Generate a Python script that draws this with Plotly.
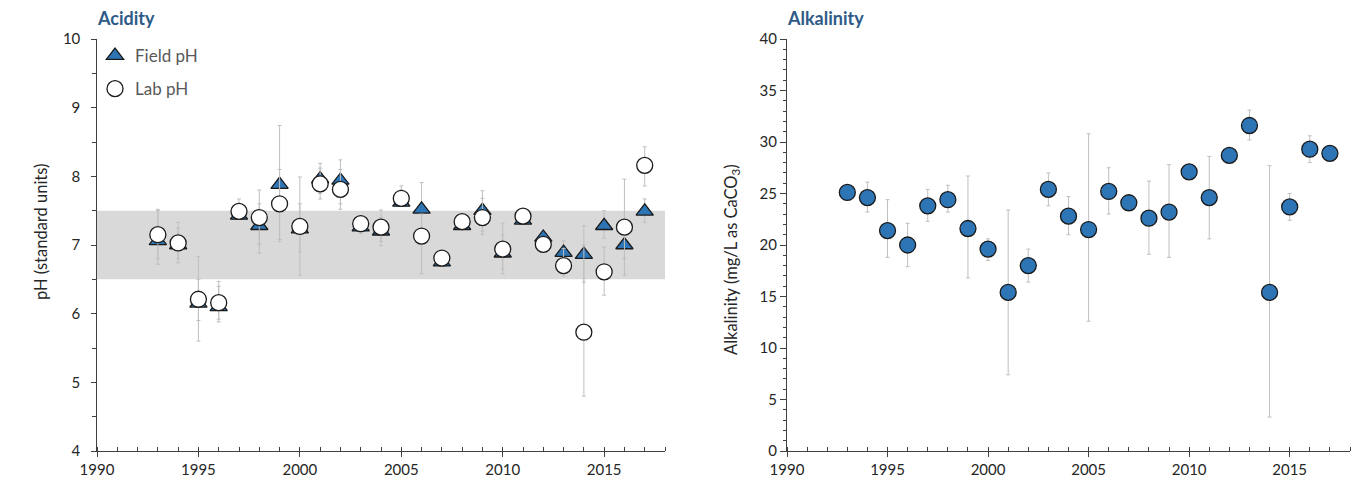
import plotly.graph_objects as go

# ---------------- data ----------------
years = list(range(1993, 2018))

field_ph = [7.06, 7.00, 6.15, 6.10, 7.43, 7.28, 7.88, 7.23, 7.96, 7.94, 7.26, 7.20, 7.62,
            7.52, 6.75, 7.28, 7.50, 6.88, 7.36, 7.11, 6.89, 6.86, 7.28, 7.00, 7.49]
field_hi = [7.50, 7.25, 6.50, 6.40, 7.60, 7.60, 8.74, 7.60, 8.12, 8.24, 7.32, 7.40, 7.80,
            7.91, 6.80, 7.33, 7.79, 7.15, 7.42, 7.18, 7.06, 7.00, 7.50, 7.20, 7.67]
field_lo = [6.80, 6.80, 5.90, 5.92, 7.38, 6.88, 7.08, 6.90, 7.75, 7.60, 7.18, 7.05, 7.58,
            7.20, 6.72, 7.25, 7.20, 6.65, 7.32, 7.02, 6.62, 6.46, 7.10, 6.56, 7.33]

lab_ph = [7.15, 7.03, 6.21, 6.16, 7.49, 7.40, 7.60, 7.27, 7.89, 7.81, 7.31, 7.26, 7.68,
          7.13, 6.81, 7.34, 7.40, 6.94, 7.42, 7.01, 6.70, 5.73, 6.61, 7.26, 8.16]
lab_hi = [7.52, 7.33, 6.83, 6.47, 7.67, 7.80, 8.10, 7.99, 8.19, 8.10, 7.36, 7.51, 7.86,
          7.45, 6.86, 7.38, 7.68, 7.32, 7.46, 7.10, 6.95, 7.28, 6.97, 7.96, 8.43]
lab_lo = [6.72, 6.74, 5.60, 5.88, 7.42, 7.01, 7.05, 6.56, 7.67, 7.52, 7.17, 6.99, 7.60,
          6.58, 6.76, 7.30, 7.15, 6.58, 7.38, 6.92, 6.55, 4.80, 6.27, 6.80, 7.86]

alk = [25.1, 24.6, 21.4, 20.0, 23.8, 24.4, 21.6, 19.6, 15.4, 18.0, 25.4, 22.8, 21.5,
       25.2, 24.1, 22.6, 23.2, 27.1, 24.6, 28.7, 31.6, 15.4, 23.7, 29.3, 28.9]
alk_hi = [25.6, 26.1, 24.4, 22.1, 25.4, 25.8, 26.7, 20.6, 23.4, 19.6, 27.0, 24.7, 30.8,
          27.5, 24.4, 26.2, 27.8, 27.4, 28.6, 29.0, 33.1, 27.7, 25.0, 30.6, 29.2]
alk_lo = [24.6, 23.2, 18.8, 17.9, 22.3, 23.2, 16.8, 18.5, 7.4, 16.4, 23.8, 21.0, 12.6,
          23.0, 23.8, 19.1, 18.8, 26.8, 20.6, 28.4, 30.2, 3.3, 22.4, 28.0, 28.6]

band_lo, band_hi = 6.5, 7.5

# ---------------- style ----------------
FONT = "Lato"
BLUE = "#2E75B6"
TITLE_BLUE = "#2E5A88"
ERR = "#BFBFBF"
AX = "#404040"
TXT = "#262626"


def err(vals, hi, lo):
    return dict(type="data", symmetric=False,
                array=[h - v for v, h in zip(vals, hi)],
                arrayminus=[v - l for v, l in zip(vals, lo)],
                color=ERR, thickness=1, width=2)


fig = go.Figure()

fig.add_trace(go.Scatter(
    x=years, y=field_ph, mode="markers", name="Field pH",
    marker=dict(symbol="triangle-up", size=15, color=BLUE,
                line=dict(color="#1a1a1a", width=1.3)),
    error_y=err(field_ph, field_hi, field_lo),
    xaxis="x", yaxis="y", legendgroup="a"))

fig.add_trace(go.Scatter(
    x=years, y=lab_ph, mode="markers", name="Lab pH",
    marker=dict(symbol="circle", size=16, color="white",
                line=dict(color="#1a1a1a", width=1.3)),
    error_y=err(lab_ph, lab_hi, lab_lo),
    xaxis="x", yaxis="y", legendgroup="b"))

fig.add_trace(go.Scatter(
    x=years, y=alk, mode="markers", name="Alkalinity", showlegend=False,
    marker=dict(symbol="circle", size=16, color=BLUE,
                line=dict(color="#1a1a1a", width=1.3)),
    error_y=err(alk, alk_hi, alk_lo),
    xaxis="x2", yaxis="y2"))

W, H = 1369, 484
xl = [97 / W, 665 / W]
xr = [787 / W, 1350 / W]
yd = [(H - 451) / H, (H - 39) / H]

common_x = dict(range=[1990, 2018], dtick=5, tick0=1990, ticks="outside", ticklen=5,
                tickcolor=AX, showline=True, linecolor=AX, linewidth=1, showgrid=False,
                zeroline=False, tickfont=dict(family=FONT, size=15, color=TXT),
                minor=dict(dtick=1, ticks="inside", ticklen=4, tickcolor=AX),
                automargin=False)

fig.update_layout(
    width=W, height=H, margin=dict(l=0, r=0, t=0, b=0, autoexpand=False),
    paper_bgcolor="white", plot_bgcolor="white",
    font=dict(family=FONT, color=TXT),
    xaxis=dict(domain=xl, anchor="y", **common_x),
    yaxis=dict(domain=yd, anchor="x", range=[4, 10], dtick=1, ticks="outside", ticklen=5,
               tickcolor=AX, showline=True, linecolor=AX, linewidth=1, showgrid=False,
               zeroline=False, tickfont=dict(family=FONT, size=15, color=TXT),
               minor=dict(dtick=0.5, ticks="outside", ticklen=4, tickcolor=AX),
               ticksuffix="\u00a0\u00a0", automargin=False),
    xaxis2=dict(domain=xr, anchor="y2", **common_x),
    yaxis2=dict(domain=yd, anchor="x2", range=[0, 40], dtick=5, ticks="outside", ticklen=6,
                tickcolor=AX, showline=True, linecolor=AX, linewidth=1, showgrid=False,
                zeroline=False, tickfont=dict(family=FONT, size=15, color=TXT),
                minor=dict(dtick=1, ticks="outside", ticklen=3, tickcolor=AX),
                automargin=False),
    legend=dict(x=95 / W, y=(H - 38) / H, xanchor="left", yanchor="top",
                bgcolor="rgba(0,0,0,0)", tracegroupgap=8,
                font=dict(family=FONT, size=17, color="#595959"), itemwidth=30),
    shapes=[dict(type="rect", xref="x domain", yref="y", x0=0, x1=1,
                 y0=band_lo, y1=band_hi, fillcolor="#D9D9D9", line=dict(width=0),
                 layer="below")],
    annotations=[
        dict(text="<b>Acidity</b>", xref="paper", yref="paper", x=95 / W, y=(H - 18) / H,
             xanchor="left", yanchor="middle", showarrow=False,
             font=dict(family=FONT, size=18, color=TITLE_BLUE)),
        dict(text="<b>Alkalinity</b>", xref="paper", yref="paper", x=785 / W, y=(H - 18) / H,
             xanchor="left", yanchor="middle", showarrow=False,
             font=dict(family=FONT, size=18, color=TITLE_BLUE)),
        dict(text="pH (standard units)", xref="paper", yref="paper", x=41 / W,
             y=(H - 232) / H, xanchor="center", yanchor="middle", showarrow=False,
             textangle=-90, font=dict(family=FONT, size=16.5, color=TXT)),
        dict(text="Alkalinity (mg/L as CaCO<sub>3</sub>)", xref="paper", yref="paper",
             x=731 / W, y=(H - 260) / H, xanchor="center", yanchor="middle",
             showarrow=False, textangle=-90, font=dict(family=FONT, size=16.5, color=TXT)),
    ],
)

fig.write_html("out.html", config={"displayModeBar": False},
               post_script="document.body.style.margin='0';")
